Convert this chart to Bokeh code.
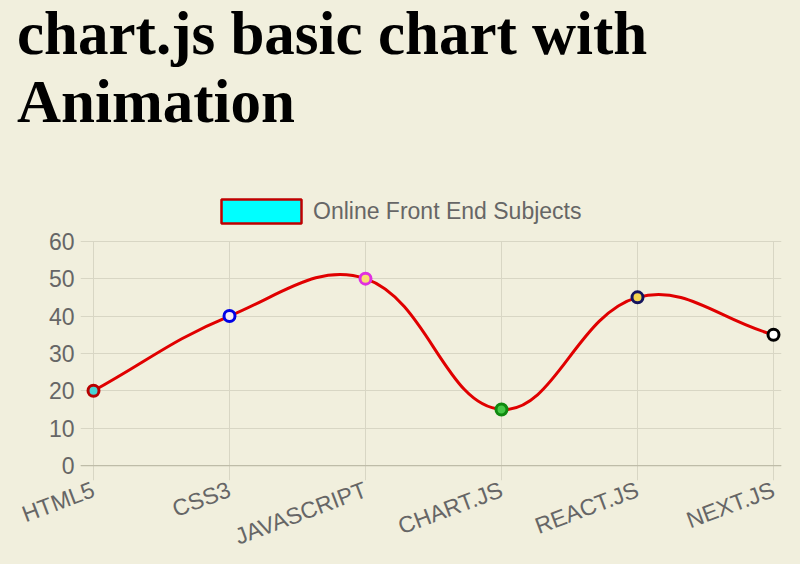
import math
from bokeh.plotting import figure
from bokeh.models import (Legend, LegendItem, FixedTicker, Range1d, Div, Span)
from bokeh.layouts import column
from bokeh.embed import file_html
from bokeh.resources import INLINE

# ---------------- data ----------------
categories = ["HTML5", "CSS3", "JAVASCRIPT", "CHART.JS", "REACT.JS", "NEXT.JS"]
values = [20, 40, 50, 15, 45, 35]
point_borders = ["#b80000", "#0000e6", "#e030e0", "#108a10", "#14145e", "#000000"]
point_fills = ["#48d4d4", "#f6eaf4", "#f8e070", "#46c846", "#f2d450", "#ffffff"]
series_label = "Online Front End Subjects"
y_ticks = [0, 10, 20, 30, 40, 50, 60]
title_lines = ["chart.js basic chart with", "Animation"]

BG = "#f1efdd"
GRID = "#d8d6c4"
ZERO = "#bebca8"
TICK_COLOR = "#666666"
PX_PER_CAT = 136          # horizontal distance between categories (px)
VALUE_H = 225             # height of the 0..60 value area (px)
PAD_L, PAD_R = 13, 8      # extra frame px left / right of first / last category
TICK_LEN = 15             # length of the x tick marks below the zero line (px)
TOP_EXTRA = 61            # frame px above the 60 line (room for the legend)
Y_MAX = 60
tension = 0.4

xs = list(range(len(categories)))
px_x = PX_PER_CAT
px_y = VALUE_H / Y_MAX

# chart.js style spline control points (computed in pixel space)
P = [(x * px_x, v * px_y) for x, v in zip(xs, values)]
n = len(P)
cp_prev, cp_next = [], []
for i in range(n):
    prev = P[i - 1] if i > 0 else P[i]
    cur = P[i]
    nxt = P[i + 1] if i < n - 1 else P[i]
    d01 = math.hypot(cur[0] - prev[0], cur[1] - prev[1])
    d12 = math.hypot(nxt[0] - cur[0], nxt[1] - cur[1])
    tot = d01 + d12
    s01 = d01 / tot if tot else 0
    s12 = d12 / tot if tot else 0
    fa, fb = tension * s01, tension * s12
    cpp = [cur[0] - fa * (nxt[0] - prev[0]), cur[1] - fa * (nxt[1] - prev[1])]
    cpn = [cur[0] + fb * (nxt[0] - prev[0]), cur[1] + fb * (nxt[1] - prev[1])]
    for c in (cpp, cpn):
        c[1] = min(max(c[1], 0), VALUE_H)
    cp_prev.append(cpp)
    cp_next.append(cpn)

bx0, by0, bx1, by1, bcx0, bcy0, bcx1, bcy1 = ([] for _ in range(8))
for i in range(n - 1):
    bx0.append(xs[i]); by0.append(values[i])
    bx1.append(xs[i + 1]); by1.append(values[i + 1])
    bcx0.append(cp_next[i][0] / px_x); bcy0.append(cp_next[i][1] / px_y)
    bcx1.append(cp_prev[i + 1][0] / px_x); bcy1.append(cp_prev[i + 1][1] / px_y)

# ---------------- title ----------------
TITLE_H = 180
title = Div(text="<br>".join(title_lines), width=800, height=TITLE_H,
            margin=(0, 0, 0, 0),
            styles={"font-family": "'Liberation Serif', serif",
                    "font-size": "61px", "font-weight": "bold",
                    "line-height": "68px", "color": "#000000",
                    "padding-left": "17px"})

# ---------------- figure ----------------
x_start = -PAD_L / px_x
x_end = (len(categories) - 1) + PAD_R / px_x
y_start = -TICK_LEN / px_y
y_end = Y_MAX + TOP_EXTRA / px_y
p = figure(width=800, height=564 - TITLE_H, output_backend="svg",
           toolbar_location=None, margin=(0, 0, 0, 0),
           x_range=Range1d(x_start, x_end), y_range=Range1d(y_start, y_end),
           min_border_left=80, min_border_right=19, min_border_top=0,
           min_border_bottom=83)
p.background_fill_color = BG
p.border_fill_color = BG
p.outline_line_color = None

# vertical grid lines (with tick marks below the zero line)
p.segment(x0=xs, y0=[y_start] * n, x1=xs, y1=[Y_MAX] * n,
          line_color=GRID, line_width=1)
p.add_layout(Span(location=0, dimension="width", line_color=ZERO, line_width=1.2))

p.bezier(x0=bx0, y0=by0, x1=bx1, y1=by1, cx0=bcx0, cy0=bcy0, cx1=bcx1, cy1=bcy1,
         line_color="#e00000", line_width=3)
p.scatter(xs, values, size=11, line_width=3, line_color=point_borders,
          fill_color=point_fills)

leg_r = p.rect(x=[float("nan")], y=[float("nan")], width=[1], height=[1],
               fill_color="#00ffff", line_color="#c00000", line_width=2.5)

legend = Legend(items=[LegendItem(label=series_label, renderers=[leg_r])],
                orientation="horizontal", location=(131, 254),
                glyph_width=100, glyph_height=30, label_standoff=2,
                label_text_font="Liberation Sans", label_text_font_size="23px",
                label_text_color=TICK_COLOR, padding=0, margin=0,
                border_line_alpha=0, background_fill_alpha=0)
p.add_layout(legend, "center")

# axes
p.xaxis.ticker = FixedTicker(ticks=xs)
p.xaxis.major_label_overrides = {i: c for i, c in zip(xs, categories)}
p.xaxis.major_label_orientation = 0.36
p.yaxis.ticker = FixedTicker(ticks=y_ticks)
for ax in (p.xaxis, p.yaxis):
    ax.major_label_text_font = "Liberation Sans"
    ax.major_label_text_font_size = "23px"
    ax.major_label_text_color = TICK_COLOR
    ax.minor_tick_line_color = None
    ax.major_tick_line_color = None
    ax.axis_line_color = None
p.xaxis.major_label_standoff = 2
p.yaxis.major_label_standoff = 0

p.xgrid.visible = False
p.ygrid.ticker = FixedTicker(ticks=y_ticks)
p.ygrid.grid_line_color = GRID

layout = column(title, p, spacing=0)
html = file_html(layout, INLINE)
html = html.replace("</head>", "<style>html,body{background:%s;}</style></head>" % BG, 1)
open("out.html", "w").write(html)
